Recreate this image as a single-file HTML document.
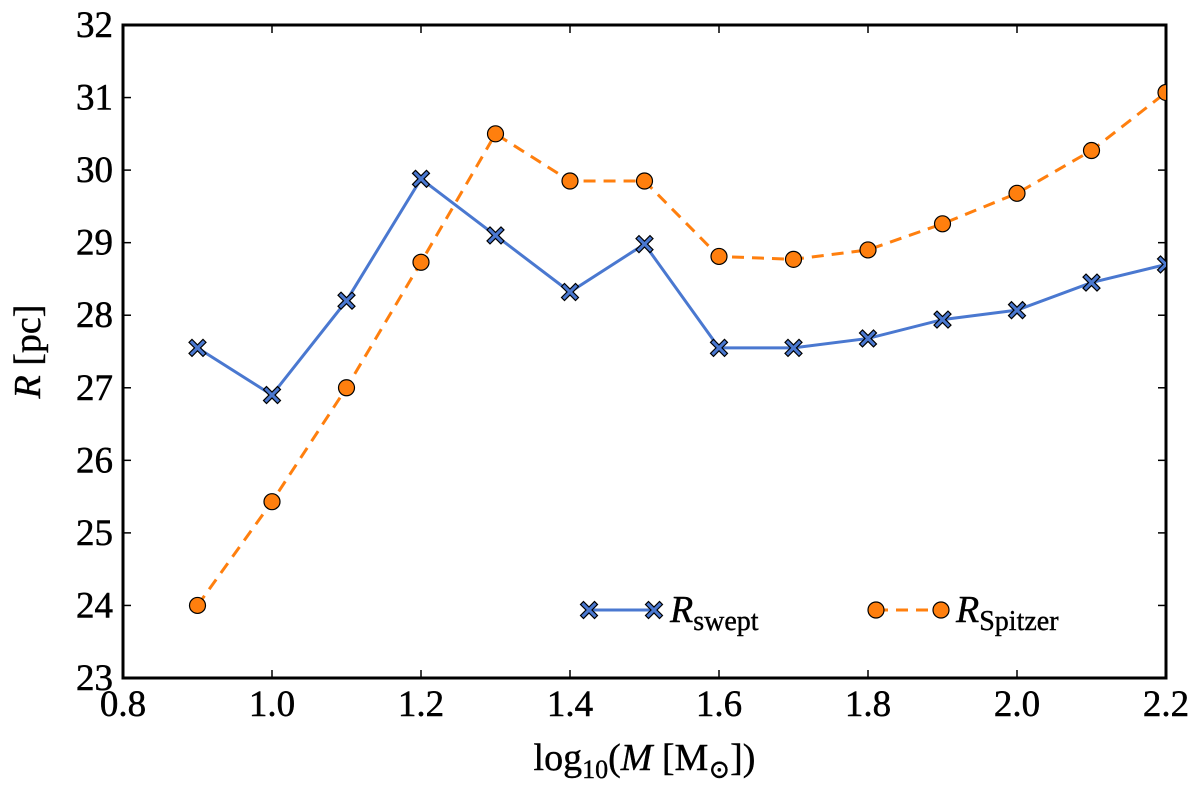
<!DOCTYPE html>
<html><head><meta charset="utf-8"><style>
html,body{margin:0;padding:0;background:#fff;}
svg{display:block;font-family:"Liberation Serif","DejaVu Serif",serif;}
</style></head><body>
<svg id="chart" width="1200" height="787" viewBox="0 0 1200 787"></svg>
<script>
const xValues=[0.9,1.0,1.1,1.2,1.3,1.4,1.5,1.6,1.7,1.8,1.9,2.0,2.1,2.2];
const sweptValues=[27.55,26.9,28.2,29.88,29.1,28.32,28.98,27.55,27.55,27.68,27.94,28.07,28.45,28.7];
const spitzerValues=[24.0,25.43,27.0,28.73,30.5,29.85,29.85,28.81,28.77,28.9,29.26,29.68,30.27,31.07];
const xTicks=[0.8,1.0,1.2,1.4,1.6,1.8,2.0,2.2];
const yTicks=[23,24,25,26,27,28,29,30,31,32];

const L=123,R=1166,T=25,B=678;
const xs=v=>L+(v-0.8)/(2.2-0.8)*(R-L);
const ys=v=>B-(v-23)/(32-23)*(B-T);
const svg=document.getElementById('chart');
const NS='http://www.w3.org/2000/svg';
function mk(tag,attrs,parent){const e=document.createElementNS(NS,tag);for(const k in attrs)e.setAttribute(k,attrs[k]);(parent||svg).appendChild(e);return e;}

const frame=mk('rect',{x:L,y:T,width:R-L,height:B-T,fill:'none',stroke:'#000','stroke-width':3});



xTicks.forEach(t=>{
  const x=xs(t);
  mk('line',{x1:x,y1:B,x2:x,y2:B-8,stroke:'#000','stroke-width':1.5});
  mk('line',{x1:x,y1:T,x2:x,y2:T+8,stroke:'#000','stroke-width':1.5});
  const tx=mk('text',{x:x,y:B+38,'text-anchor':'middle','font-size':37,stroke:'#000','stroke-width':0.5});
  tx.textContent=t.toFixed(1);
  
  
});
yTicks.forEach(t=>{
  const y=ys(t);
  mk('line',{x1:L,y1:y,x2:L+8,y2:y,stroke:'#000','stroke-width':1.5});
  mk('line',{x1:R,y1:y,x2:R-8,y2:y,stroke:'#000','stroke-width':1.5});
  const tx=mk('text',{x:L-10,y:y+12,'text-anchor':'end','font-size':37,stroke:'#000','stroke-width':0.5});
  tx.textContent=t;
  
  
});

const xt=mk('text',{x:(L+R)/2,y:770,'text-anchor':'middle','font-size':38,stroke:'#000','stroke-width':0.4});
xt.innerHTML='log<tspan font-size="26" dy="8">10</tspan><tspan dy="-8">(</tspan><tspan font-style="italic">M</tspan> [M<tspan font-size="26" dy="8">⊙</tspan><tspan dy="-8">])</tspan>';


const yt=mk('text',{x:0,y:0,'text-anchor':'middle','font-size':38,stroke:'#000','stroke-width':0.4,transform:`translate(40,${(T+B)/2}) rotate(-90)`});
yt.innerHTML='<tspan font-style="italic">R</tspan> [pc]';



const clip=mk('clipPath',{id:'c'});mk('rect',{x:L,y:T,width:R-L,height:B-T},clip);

function cross(g,x,y,fill){
  const s=5.5;
  const d=`M${x-s},${y-s-3}L${x},${y-3}L${x+s},${y-s-3}L${x+s+3},${y-s}L${x+3},${y}L${x+s+3},${y+s}L${x+s},${y+s+3}L${x},${y+3}L${x-s},${y+s+3}L${x-s-3},${y+s}L${x-3},${y}L${x-s-3},${y-s}Z`;
  return mk('path',{d:d,fill:fill,stroke:'#000','stroke-width':1.2},g);
}

const gS=mk('g',{'clip-path':'url(#c)'});


mk('polyline',{points:xValues.map((v,i)=>xs(v)+','+ys(sweptValues[i])).join(' '),fill:'none',stroke:'#4a78d0','stroke-width':3},gS);
xValues.forEach((v,i)=>{const p=cross(gS,xs(v),ys(sweptValues[i]),'#4a78d0');
  
  });

const gP=mk('g',{'clip-path':'url(#c)'});


mk('polyline',{points:xValues.map((v,i)=>xs(v)+','+ys(spitzerValues[i])).join(' '),fill:'none',stroke:'#ff7f0e','stroke-width':3,'stroke-dasharray':'12,8'},gP);
xValues.forEach((v,i)=>{const c=mk('circle',{cx:xs(v),cy:ys(spitzerValues[i]),r:8,fill:'#ff7f0e',stroke:'#000','stroke-width':1.2},gP);
  
  });

const lg=mk('g',{});


const ly=610;
mk('line',{x1:589,y1:ly,x2:654,y2:ly,stroke:'#4a78d0','stroke-width':3},lg);
cross(lg,589,ly,'#4a78d0');cross(lg,654,ly,'#4a78d0');
const l1=mk('text',{x:670,y:ly+12,'font-size':38,stroke:'#000','stroke-width':0.4},lg);
l1.innerHTML='<tspan font-style="italic">R</tspan><tspan font-size="28" dy="8">swept</tspan>';


mk('line',{x1:876,y1:ly,x2:941,y2:ly,stroke:'#ff7f0e','stroke-width':3,'stroke-dasharray':'12,8'},lg);
mk('circle',{cx:876,cy:ly,r:8,fill:'#ff7f0e',stroke:'#000','stroke-width':1.2},lg);
mk('circle',{cx:941,cy:ly,r:8,fill:'#ff7f0e',stroke:'#000','stroke-width':1.2},lg);
const l2=mk('text',{x:956,y:ly+12,'font-size':38,stroke:'#000','stroke-width':0.4},lg);
l2.innerHTML='<tspan font-style="italic">R</tspan><tspan font-size="28" dy="8">Spitzer</tspan>';


</script>
</body></html>
